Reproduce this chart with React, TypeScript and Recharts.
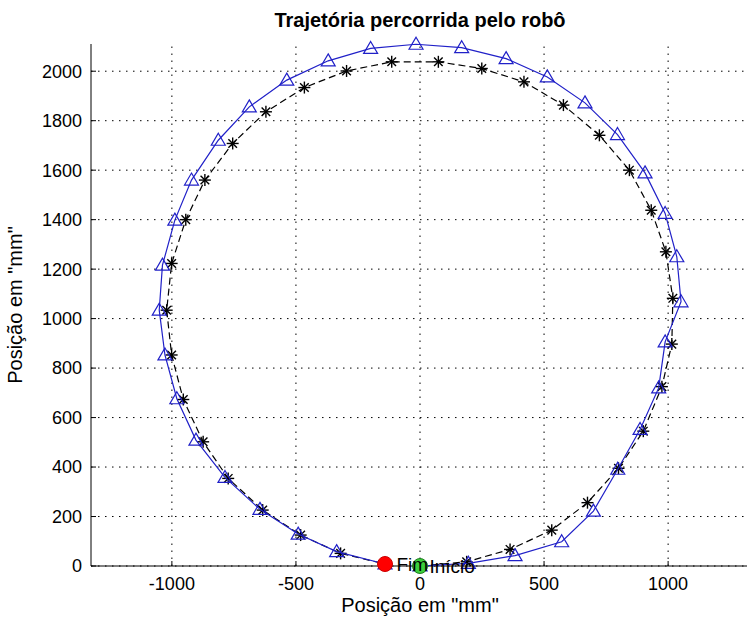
import { ScatterChart, Scatter, XAxis, YAxis, LabelList, ReferenceLine } from 'recharts';

// trajetória medida (triângulos azuis)
const medidoX = [0, 195, 383, 571, 699, 797, 887, 962, 988, 1052, 1035, 988, 907, 796, 665, 513, 347, 168, -16, -199, -370, -537, -688, -813, -921, -988, -1038, -1051, -1028, -980, -903, -786, -645, -491, -336, -141];
const medidoY = [0, 11, 42, 98, 222, 391, 552, 720, 906, 1068, 1250, 1425, 1589, 1744, 1872, 1977, 2051, 2095, 2109, 2092, 2042, 1964, 1856, 1721, 1560, 1398, 1216, 1034, 853, 676, 509, 358, 229, 129, 58, 8];

// trajetória de referência (asteriscos pretos)
const refX = [0, 188, 363, 531, 675, 800, 900, 975, 1015, 1019, 991, 932, 844, 723, 578, 419, 249, 74, -114, -296, -466, -621, -755, -867, -944, -1001, -1021, -1001, -954, -874, -773, -634, -481, -320, -141];
const refY = [0, 17, 67, 145, 256, 395, 545, 725, 897, 1082, 1270, 1438, 1600, 1741, 1863, 1957, 2011, 2038, 2038, 2001, 1934, 1836, 1708, 1560, 1400, 1223, 1034, 853, 673, 502, 354, 226, 125, 51, 8];

const inicio = [{ x: 0, y: 0, nome: 'Início' }];
const fim = [{ x: -141, y: 8, nome: 'Fim' }];

const xTicks = [-1000, -500, 0, 500, 1000];
const yTicks = [0, 200, 400, 600, 800, 1000, 1200, 1400, 1600, 1800, 2000];
const xDominio: [number, number] = [-1326, 1326];
const yDominio: [number, number] = [0, 2110];

const AZUL = '#2020c8';
const FONTE = "'Liberation Sans', Arial, sans-serif";
const PONTILHADO = '1.5 5.5';

const medido = medidoX.map((x, i) => ({ x, y: medidoY[i] }));
const referencia = refX.map((x, i) => ({ x, y: refY[i] }));

function Triangulo(props: any) {
  const { cx, cy } = props;
  return (
    <path
      d={`M${cx},${cy - 7} L${cx + 7},${cy + 5} L${cx - 7},${cy + 5} Z`}
      fill="none"
      stroke={AZUL}
      strokeWidth={1.2}
    />
  );
}

function Asterisco(props: any) {
  const { cx, cy } = props;
  const r = 6;
  const d = 4.3;
  return (
    <g stroke="#000" strokeWidth={1.4}>
      <line x1={cx - r} y1={cy} x2={cx + r} y2={cy} />
      <line x1={cx} y1={cy - r} x2={cx} y2={cy + r} />
      <line x1={cx - d} y1={cy - d} x2={cx + d} y2={cy + d} />
      <line x1={cx - d} y1={cy + d} x2={cx + d} y2={cy - d} />
    </g>
  );
}

function Circulo(fill: string, stroke: string) {
  return (props: any) => <circle cx={props.cx} cy={props.cy} r={7.5} fill={fill} stroke={stroke} strokeWidth={1} />;
}

function rotuloY(props: any) {
  const vb = props.viewBox || { x: 0, y: 44, width: 91, height: 522 };
  const x = vb.x + 22;
  const y = vb.y + vb.height / 2;
  return (
    <text x={x} y={y} transform={`rotate(-90, ${x}, ${y})`} textAnchor="middle" fontSize={20} fill="#000" fontFamily={FONTE}>
      Posição em "mm"
    </text>
  );
}

export default function App() {
  return (
    <div style={{ position: 'fixed', left: 0, top: 0, width: 747, height: 619, overflow: 'hidden', background: '#fff' }}>
      <div
        style={{
          position: 'absolute',
          left: 0,
          top: 8,
          width: 840,
          textAlign: 'center',
          fontFamily: FONTE,
          fontWeight: 'bold',
          fontSize: 20,
          lineHeight: '24px',
          color: '#000',
        }}
      >
        Trajetória percorrida pelo robô
      </div>
      <ScatterChart width={760} height={619} margin={{ top: 44, right: 11, bottom: 0, left: 0 }}>
        {/* grade pontilhada só nos ticks */}
        {yTicks.map((t) => (
          <ReferenceLine key={`h${t}`} y={t} stroke="#000" strokeDasharray={PONTILHADO} />
        ))}
        {xTicks.map((t) => (
          <ReferenceLine key={`v${t}`} x={t} stroke="#000" strokeDasharray={PONTILHADO} />
        ))}
        <XAxis
          type="number"
          dataKey="x"
          domain={xDominio}
          ticks={xTicks}
          height={53}
          axisLine={{ stroke: '#000' }}
          tickLine={{ stroke: '#000' }}
          tickSize={-5}
          tickMargin={16}
          tick={{ fill: '#000', fontSize: 18, fontFamily: FONTE }}
          label={{ value: 'Posição em "mm"', position: 'insideBottom', offset: 7, fill: '#000', fontSize: 20, fontFamily: FONTE }}
        />
        <YAxis
          type="number"
          dataKey="y"
          domain={yDominio}
          ticks={yTicks}
          width={91}
          axisLine={{ stroke: '#000' }}
          tickLine={{ stroke: '#000' }}
          tickSize={-5}
          tickMargin={14}
          tick={{ fill: '#000', fontSize: 18, fontFamily: FONTE }}
          label={rotuloY}
        />
        <Scatter
          data={referencia}
          line={{ stroke: '#000', strokeWidth: 1.2, strokeDasharray: '7 4' }}
          shape={Asterisco}
          isAnimationActive={false}
        />
        <Scatter
          data={medido}
          line={{ stroke: AZUL, strokeWidth: 1.2 }}
          shape={Triangulo}
          isAnimationActive={false}
        />
        <Scatter data={fim} shape={Circulo('#ff0000', '#cc0000')} isAnimationActive={false}>
          <LabelList dataKey="nome" position="right" offset={7} fill="#000" fontSize={19} fontFamily={FONTE} />
        </Scatter>
        <Scatter data={inicio} shape={Circulo('#3ccf3c', '#1f7f1f')} isAnimationActive={false}>
          <LabelList dataKey="nome" position="right" offset={5} fill="#000" fontSize={19} fontFamily={FONTE} />
        </Scatter>
      </ScatterChart>
    </div>
  );
}
